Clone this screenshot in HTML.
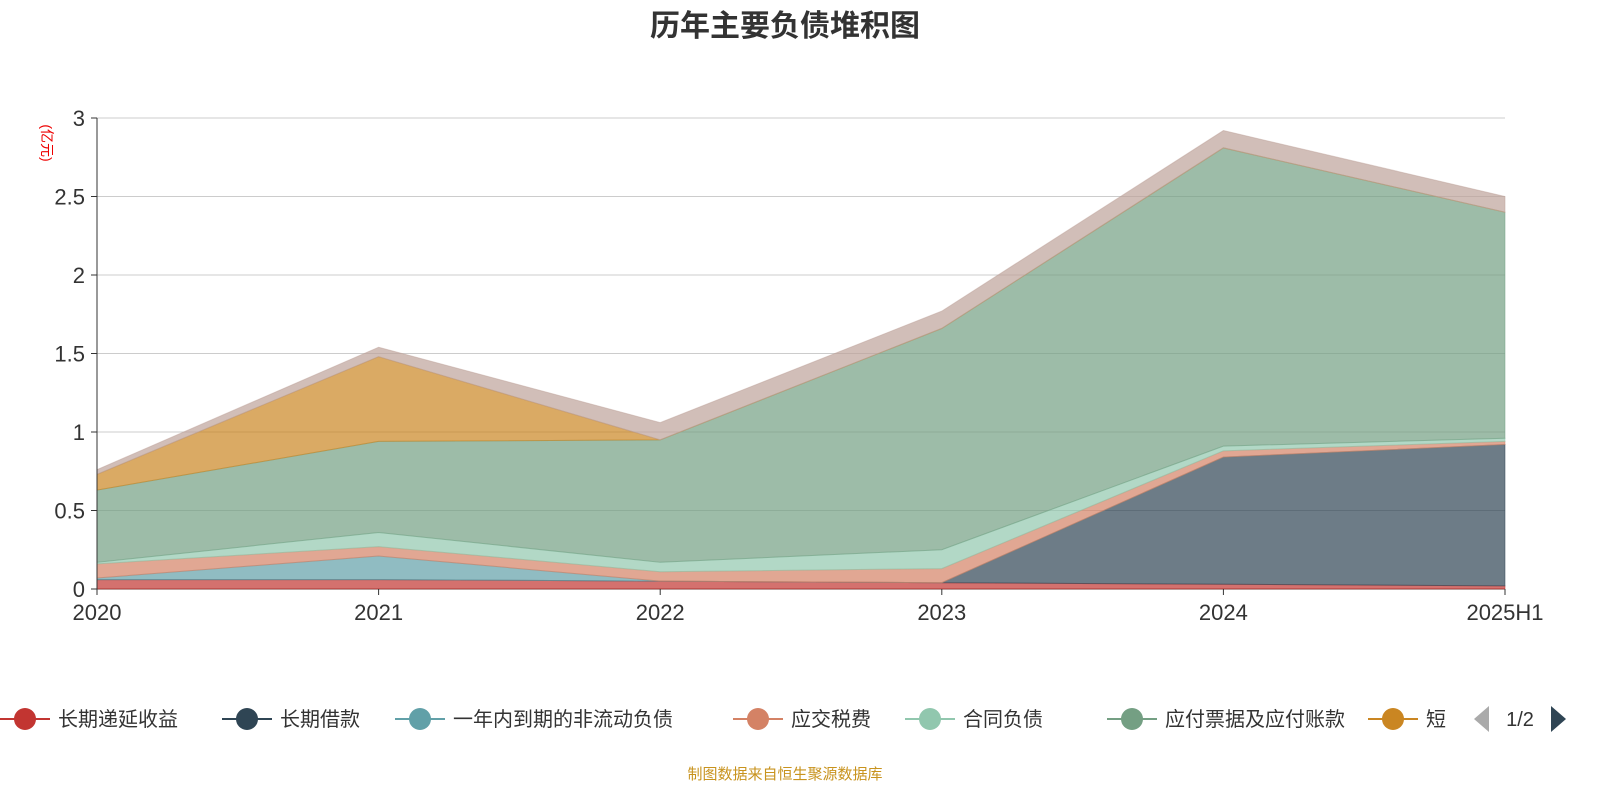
<!DOCTYPE html>
<html><head><meta charset="utf-8"><style>
body{margin:0;background:#fff;}
svg text{font-family:"Liberation Sans","Noto Sans CJK SC",sans-serif;}
</style></head><body>
<svg id="chart" width="1600" height="800" xmlns="http://www.w3.org/2000/svg">
<text x="785" y="36" text-anchor="middle" font-size="30" font-weight="bold" fill="#333">历年主要负债堆积图</text>
<text x="0" y="0" transform="translate(42,143) rotate(90)" text-anchor="middle" font-size="14" fill="#e00">(亿元)</text>
<g id="grid"></g><g id="areas"></g><g id="axes"></g><g id="legend"></g>
<text x="785" y="779" text-anchor="middle" font-size="15" fill="#c8931e">制图数据来自恒生聚源数据库</text>
</svg>
<script>
const categories=["2020","2021","2022","2023","2024","2025H1"];
const seriesNames=["长期递延收益","长期借款","一年内到期的非流动负债","应交税费","合同负债","应付票据及应付账款","短期借款","其他应付款"];
const s0=[0.06,0.06,0.05,0.04,0.03,0.02];
const s1=[0,0,0,0,0.81,0.90];
const s2=[0.01,0.15,0,0,0,0];
const s3=[0.09,0.06,0.06,0.09,0.04,0.02];
const s4=[0.01,0.09,0.06,0.12,0.03,0.02];
const s5=[0.46,0.58,0.78,1.41,1.90,1.44];
const s6=[0.10,0.54,0,0,0,0];
const s7=[0.03,0.06,0.11,0.11,0.11,0.10];
const series=[s0,s1,s2,s3,s4,s5,s6,s7];
const lineColors=["#c23531","#2f4554","#61a0a8","#d48265","#91c7ae","#749f83","#ca8622","#bda29a"];
const yTicks=[0,0.5,1,1.5,2,2.5,3];
const NS="http://www.w3.org/2000/svg";
const x0=97,x1=1505,yb=589,yt=118,ymax=3;
const X=i=>x0+i*(x1-x0)/(categories.length-1);
const Y=v=>yb-v*(yb-yt)/ymax;
function mk(t,a,p){const e=document.createElementNS(NS,t);for(const k in a)e.setAttribute(k,a[k]);p.appendChild(e);return e;}
const grid=document.getElementById('grid'),areas=document.getElementById('areas'),axes=document.getElementById('axes'),legend=document.getElementById('legend');
yTicks.forEach(v=>{
 const l=mk('line',{x1:x0,x2:x1,y1:Y(v),y2:Y(v),stroke:v===0?'#333':'#ccc','stroke-width':1},grid);
 
 
 const t=mk('text',{x:x0-12,y:Y(v)+8,'text-anchor':'end','font-size':22,fill:'#333'},axes);t.textContent=v;
 
 
 mk('line',{x1:x0-6,x2:x0,y1:Y(v),y2:Y(v),stroke:'#333'},axes);
});
mk('line',{x1:x0,x2:x0,y1:yt,y2:yb,stroke:'#333'},axes);
categories.forEach((c,i)=>{
 mk('line',{x1:X(i),x2:X(i),y1:yb,y2:yb+6,stroke:'#333'},axes);
 const t=mk('text',{x:X(i),y:yb+31,'text-anchor':'middle','font-size':22,fill:'#333'},axes);t.textContent=c;
 
 
});
let base=categories.map(()=>0);
series.forEach((s,k)=>{
 const top=base.map((b,i)=>b+s[i]);
 let d='M'+top.map((v,i)=>X(i)+','+Y(v)).join('L');
 for(let i=categories.length-1;i>=0;i--)d+='L'+X(i)+','+Y(base[i]);
 const p=mk('path',{d:d+'Z',fill:lineColors[k],'fill-opacity':0.7,stroke:lineColors[k],'stroke-width':1,'stroke-opacity':0.5},areas);
 
 
 base=top;
});
const legX=[0,222,395,733,905,1107,1368];
for(let k=0;k<7;k++){
 const g=mk('g',{},legend);
 
 
 const x=legX[k];
 mk('line',{x1:x,x2:x+50,y1:719,y2:719,stroke:lineColors[k],'stroke-width':2},g);
 mk('circle',{cx:x+25,cy:719,r:11,fill:lineColors[k]},g);
 const t=mk('text',{x:x+58,y:726,'font-size':20,fill:'#333'},g);
 t.textContent=k===6?'短':seriesNames[k];
}
const pl=mk('path',{d:'M1489,706L1489,732L1474,719Z',fill:'#aaa'},legend);


const pt=mk('text',{x:1520,y:726,'text-anchor':'middle','font-size':20,fill:'#333'},legend);pt.textContent='1/2';


const pn=mk('path',{d:'M1551,706L1551,732L1566,719Z',fill:'#2f4554'},legend);


</script>
</body></html>
